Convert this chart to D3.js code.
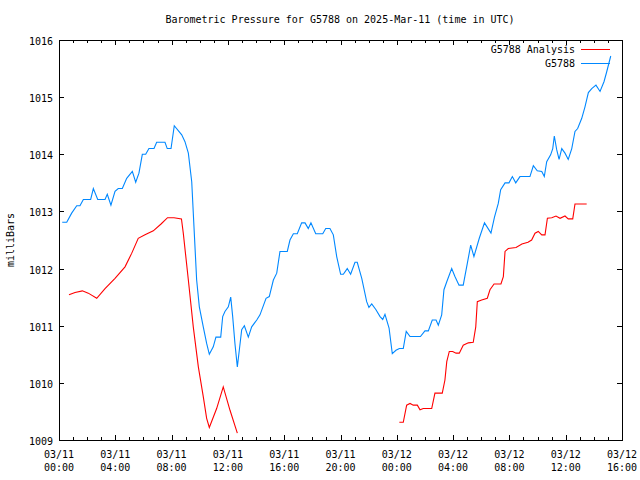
<!DOCTYPE html>
<html><head><meta charset="utf-8">
<script src="https://cdn.jsdelivr.net/npm/d3@7"></script>
<style>
body{margin:0;background:#fff;}
text{font-family:"DejaVu Sans Mono","Liberation Mono",monospace;font-size:10px;fill:#000;}
</style></head>
<body><svg id="c" width="640" height="480"></svg>
<script>
const title = "Barometric Pressure for G5788 on 2025-Mar-11 (time in UTC)";
const yLabel = "milliBars";
const seriesNames = ["G5788 Analysis", "G5788"];
const seriesColors = ["#ff0000", "#0088ff"];
const yTicks = [1009,1010,1011,1012,1013,1014,1015,1016];
const xTickHours = [0,4,8,12,16,20,24,28,32,36,40];
const xTickDates = ["03/11","03/11","03/11","03/11","03/11","03/11","03/12","03/12","03/12","03/12","03/12"];
const xTickTimes = ["00:00","04:00","08:00","12:00","16:00","20:00","00:00","04:00","08:00","12:00","16:00"];

// G5788 observations: hours since 03/11 00:00 UTC, pressure (mb)
const obsHours = [0.23,0.55,0.90,1.26,1.49,1.73,2.25,2.44,2.75,3.27,3.43,3.69,3.98,4.21,4.50,4.81,5.21,5.45,5.68,5.92,6.16,6.39,6.75,6.94,7.53,7.69,7.96,8.19,8.72,8.95,9.19,9.43,9.59,9.78,9.97,10.25,10.49,10.68,10.96,11.15,11.49,11.63,11.79,12.03,12.20,12.34,12.50,12.67,12.81,12.98,13.17,13.45,13.69,14.05,14.28,14.71,14.94,15.23,15.47,15.70,16.22,16.41,16.65,16.93,17.24,17.48,17.71,17.90,18.24,18.74,18.95,19.25,19.49,19.73,20.01,20.20,20.48,20.72,21.03,21.19,21.51,21.86,22.02,22.22,22.52,22.81,23.00,23.16,23.45,23.68,23.94,24.18,24.46,24.67,24.94,25.68,26.00,26.24,26.52,26.79,26.95,27.19,27.35,27.55,27.90,28.13,28.42,28.72,29.01,29.25,29.48,29.86,30.23,30.69,30.94,31.21,31.38,31.69,31.97,32.21,32.45,32.75,33.46,33.70,33.98,34.30,34.48,34.65,34.93,35.08,35.19,35.36,35.53,35.72,35.95,36.18,36.43,36.66,36.85,37.14,37.37,37.61,37.85,38.15,38.44,38.72,38.91,39.20];
const obsPressure = [1012.81,1012.81,1012.97,1013.10,1013.10,1013.21,1013.21,1013.40,1013.21,1013.21,1013.30,1013.11,1013.35,1013.40,1013.40,1013.58,1013.70,1013.51,1013.67,1014.00,1014.00,1014.10,1014.10,1014.21,1014.21,1014.10,1014.10,1014.50,1014.34,1014.22,1014.02,1013.52,1012.73,1011.80,1011.33,1010.98,1010.69,1010.50,1010.63,1010.80,1010.80,1011.16,1011.25,1011.33,1011.50,1011.16,1010.69,1010.28,1010.57,1010.93,1011.00,1010.80,1010.98,1011.10,1011.19,1011.48,1011.51,1011.80,1011.92,1012.30,1012.30,1012.50,1012.61,1012.61,1012.80,1012.80,1012.70,1012.80,1012.61,1012.61,1012.70,1012.70,1012.59,1012.21,1011.90,1011.90,1012.00,1011.90,1012.11,1012.11,1011.83,1011.42,1011.32,1011.38,1011.28,1011.16,1011.11,1011.20,1010.96,1010.51,1010.57,1010.60,1010.60,1010.90,1010.81,1010.81,1010.91,1010.91,1011.10,1011.10,1011.01,1011.19,1011.63,1011.77,1012.00,1011.86,1011.71,1011.71,1012.09,1012.41,1012.21,1012.53,1012.80,1012.62,1012.90,1013.14,1013.38,1013.50,1013.50,1013.61,1013.50,1013.61,1013.61,1013.80,1013.71,1013.70,1013.61,1013.87,1013.99,1014.10,1014.32,1014.08,1013.91,1014.10,1014.02,1013.91,1014.10,1014.40,1014.45,1014.63,1014.83,1015.08,1015.15,1015.21,1015.10,1015.27,1015.44,1015.72];

// G5788 Analysis (null marks the gap)
const anaHours = [0.71,1.14,1.66,2.08,2.68,3.27,3.98,4.69,5.17,5.63,6.11,6.70,7.25,7.71,8.17,8.70,8.83,9.19,9.54,9.90,10.25,10.49,10.68,11.20,11.67,12.15,12.67,18.0,24.18,24.46,24.70,24.94,25.17,25.46,25.65,25.88,26.48,26.71,27.23,27.42,27.55,27.73,27.97,28.21,28.44,28.72,29.08,29.43,29.61,29.72,30.03,30.43,30.62,30.91,31.40,31.57,31.69,31.92,32.47,32.89,33.32,33.58,33.82,34.05,34.30,34.53,34.70,35.01,35.31,35.60,35.95,36.18,36.50,36.66,37.49];
const anaPressure = [1011.54,1011.58,1011.61,1011.57,1011.48,1011.65,1011.83,1012.03,1012.27,1012.53,1012.59,1012.66,1012.78,1012.89,1012.89,1012.87,1012.62,1011.80,1010.98,1010.28,1009.76,1009.38,1009.22,1009.55,1009.93,1009.52,1009.12,null,1009.31,1009.31,1009.61,1009.64,1009.61,1009.61,1009.53,1009.55,1009.55,1009.82,1009.82,1010.05,1010.37,1010.55,1010.55,1010.52,1010.52,1010.66,1010.70,1010.71,1010.98,1011.42,1011.45,1011.48,1011.63,1011.73,1011.73,1011.86,1012.30,1012.35,1012.37,1012.43,1012.46,1012.50,1012.62,1012.65,1012.59,1012.59,1012.88,1012.89,1012.92,1012.88,1012.92,1012.87,1012.87,1013.13,1013.13];

const L = 59, R = 622, T = 40, B = 440;
const svg = d3.select("#c");
const x = d3.scaleLinear().domain([0,40]).range([L,R]);
const y = d3.scaleLinear().domain([1009,1016]).range([B,T]);

// title
svg.append("text").attr("x",340).attr("y",23).attr("text-anchor","middle").text(title);
// y label
svg.append("text").attr("transform","translate(14,240) rotate(-90)").attr("text-anchor","middle").text(yLabel);

const g = svg.append("g").attr("shape-rendering","crispEdges");
const minorHours = d3.range(0,41);
// bottom & top ticks
minorHours.forEach(h=>{
  const major = h%4===0;
  const len = major?5:3;
  const xx = Math.round(x(h))+0.5;
  g.append("line").attr("x1",xx).attr("x2",xx).attr("y1",B).attr("y2",B-len).attr("stroke","#000");
  g.append("line").attr("x1",xx).attr("x2",xx).attr("y1",T).attr("y2",T+len).attr("stroke","#000");
});
yTicks.forEach(v=>{
  const yy = Math.round(y(v))+0.5;
  g.append("line").attr("x1",L).attr("x2",L+5).attr("y1",yy).attr("y2",yy).attr("stroke","#000");
  g.append("line").attr("x1",R).attr("x2",R-5).attr("y1",yy).attr("y2",yy).attr("stroke","#000");
  svg.append("text").attr("x",L-6).attr("y",yy+4).attr("text-anchor","end").text(v);
});
xTickHours.forEach((h,i)=>{
  svg.append("text").attr("x",x(h)).attr("y",458).attr("text-anchor","middle").text(xTickDates[i]);
  svg.append("text").attr("x",x(h)).attr("y",471).attr("text-anchor","middle").text(xTickTimes[i]);
});
g.append("rect").attr("x",L+0.5).attr("y",T+0.5).attr("width",R-L).attr("height",B-T)
  .attr("fill","none").attr("stroke","#000");

const line = d3.line().defined(d=>d[1]!==null).x(d=>x(d[0])).y(d=>y(d[1]));
const anaData = anaHours.map((h,i)=>[h,anaPressure[i]]);
const obsData = obsHours.map((h,i)=>[h,obsPressure[i]]);
svg.append("path").datum(anaData).attr("d",line).attr("fill","none").attr("stroke",seriesColors[0]).attr("stroke-width",1.1);
svg.append("path").datum(obsData).attr("d",line).attr("fill","none").attr("stroke",seriesColors[1]).attr("stroke-width",1.1);

// legend
seriesNames.forEach((n,i)=>{
  const ly = 49 + i*13.5;
  svg.append("text").attr("x",575).attr("y",ly+4).attr("text-anchor","end").text(n);
  svg.append("line").attr("x1",581).attr("x2",610).attr("y1",Math.round(ly)+0.5).attr("y2",Math.round(ly)+0.5)
    .attr("stroke",seriesColors[i]).attr("shape-rendering","crispEdges");
});
</script></body></html>
